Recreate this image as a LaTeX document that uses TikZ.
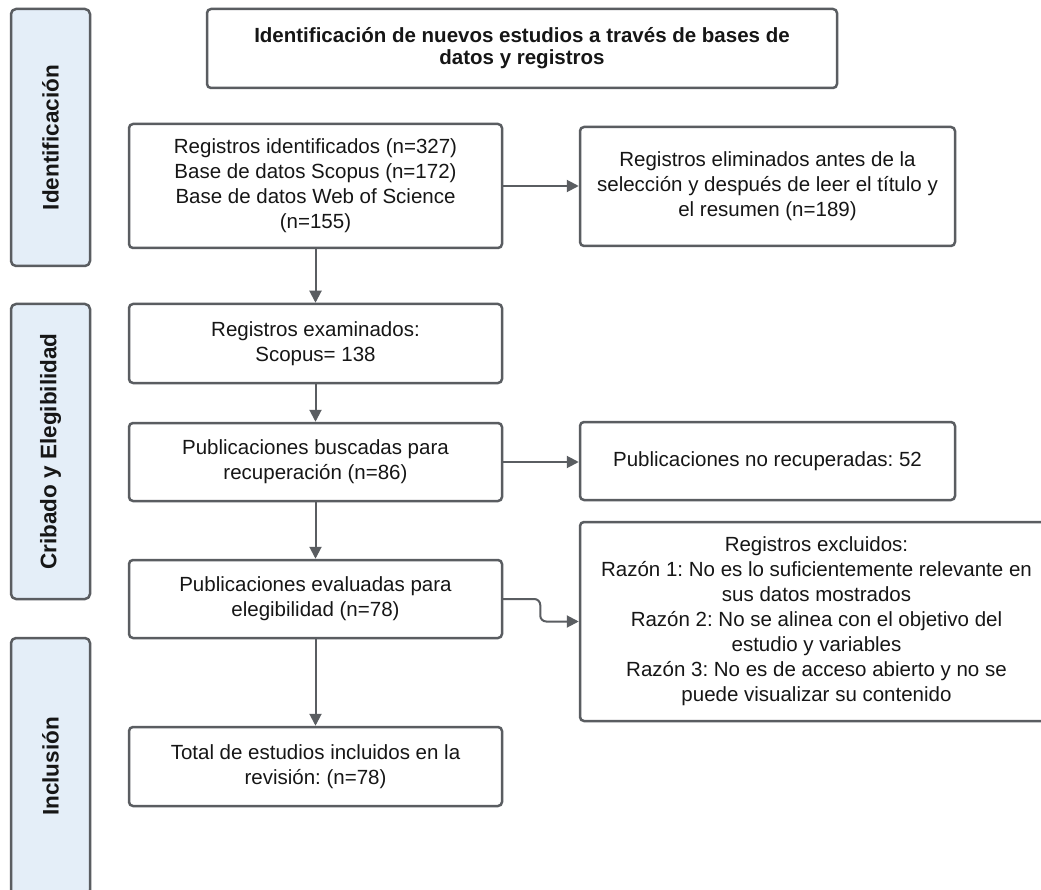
\documentclass[tikz,border=0pt]{standalone}
\usepackage{fontspec}
\setmainfont{Liberation Sans}
\usetikzlibrary{arrows.meta,positioning}
\definecolor{linegray}{HTML}{5A5D61}
\definecolor{bandblue}{HTML}{E4EEF8}
\definecolor{txtgray}{HTML}{161616}
\frenchspacing
\tikzset{
  box/.style={draw=linegray, line width=2.5pt, rounded corners=4pt, fill=white, text=txtgray,
    inner sep=0pt, align=center, font=\fontsize{20.5}{25}\selectfont},
  band/.style={draw=linegray, line width=2.5pt, rounded corners=5pt, fill=bandblue, text=txtgray,
    inner sep=0pt, rotate=90, minimum height=79pt, font=\fontsize{22.5}{25}\selectfont\bfseries},
  flow/.style={draw=linegray, line width=2pt, -{Triangle[length=12pt,width=12pt]}}
}
\begin{document}
\begin{tikzpicture}[x=1pt, y=-1pt, line join=round, line cap=round]
\clip (0,0) rectangle (1041,890);
\fill[white] (0,0) rectangle (1041,890);
% fases
\node[band, minimum width=257pt] (fase1) at (50.5,137.5) {Identificación};
\node[band, minimum width=295pt] (fase2) at (50.5,451.5) {Cribado y Elegibilidad};
\node[band, minimum width=257pt] (fase3) at (50.5,766.5) {Inclusión};
% cajas
\node[box, minimum width=630pt, minimum height=79pt, font=\fontsize{20.5}{22}\selectfont\bfseries] (titulo) at (522,48.5)
  {Identificación de nuevos estudios a través de bases de\\datos y registros};
\node[box, minimum width=373pt, minimum height=124pt] (ident) at (315.5,186)
  {Registros identificados (n=327)\\Base de datos Scopus (n=172)\\Base de datos Web of Science\\(n=155)};
\node[box, minimum width=373pt, minimum height=79pt] (exam) at (315.5,343.5)
  {Registros examinados:\\Scopus= 138};
\node[box, minimum width=373pt, minimum height=78pt] (busc) at (315.5,462)
  {Publicaciones buscadas para\\recuperación (n=86)};
\node[box, minimum width=373pt, minimum height=78pt] (eval) at (315.5,599)
  {Publicaciones evaluadas para\\elegibilidad (n=78)};
\node[box, minimum width=373pt, minimum height=79pt] (total) at (315.5,766.5)
  {Total de estudios incluidos en la\\revisión: (n=78)};
\node[box, minimum width=375pt, minimum height=119pt] (elim) at (767.5,186.5)
  {Registros eliminados antes de la\\selección y después de leer el título y\\el resumen (n=189)};
\node[box, minimum width=375pt, minimum height=78pt] (norec) at (767.5,461)
  {Publicaciones no recuperadas: 52};
\node[box, minimum width=473pt, minimum height=199pt] (excl) at (816.5,621.5)
  {Registros excluidos:\\Razón 1: No es lo suficientemente relevante en\\sus datos mostrados\\Razón 2: No se alinea con el objetivo del\\estudio y variables\\Razón 3: No es de acceso abierto y no se\\puede visualizar su contenido};
% flechas
\draw[flow] (ident) -- (exam);
\draw[flow] (exam) -- (busc);
\draw[flow] (busc) -- (eval);
\draw[flow] (eval) -- (total);
\draw[flow] (ident.east) -- (ident.east -| elim.west);
\draw[flow] (busc.east) -- (busc.east -| norec.west);
\draw[flow, rounded corners=6pt] (eval.east) -- ++(37,0) |- (excl.west);
\end{tikzpicture}
\end{document}
